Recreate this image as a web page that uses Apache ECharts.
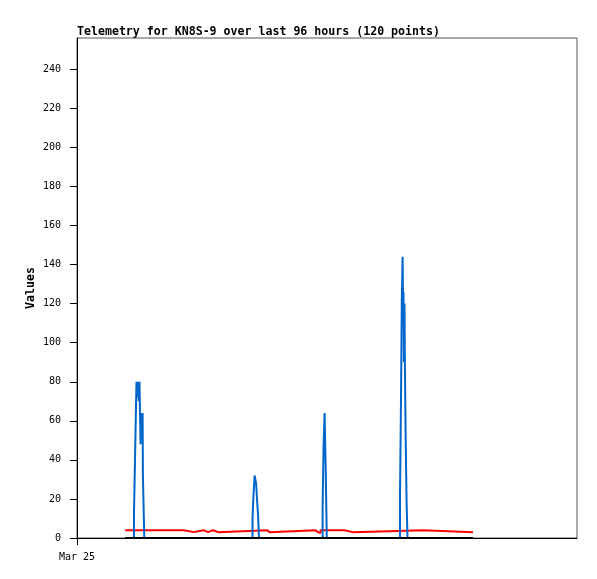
<!DOCTYPE html>
<html><head><meta charset="utf-8">
<script src="https://cdn.jsdelivr.net/npm/echarts@6/dist/echarts.min.js"></script>
<style>html,body{margin:0;padding:0;background:#fff}#c{width:597px;height:579px}</style>
</head><body><div id="c"></div>
<script>
const titleText = 'Telemetry for KN8S-9 over last 96 hours (120 points)';
const yAxisName = 'Values';
const xTickHours = [0];
const xTickLabels = ['Mar 25'];
const yTicks = [0, 20, 40, 60, 80, 100, 120, 140, 160, 180, 200, 220, 240];

// time in hours since Mar 25 00:00; each value starts at its time (step)
const blueHours = [13.3,
  15.73, 16.01, 16.28, 16.42, 16.64, 16.84, 17.06, 17.25, 17.39, 17.55, 17.75, 17.91, 18.11, 18.19, 18.57,
  48.44, 48.71, 49.02, 49.43, 49.68, 49.96, 50.23,
  67.79, 68.06, 68.34, 68.67, 68.94,
  89.15, 89.42, 89.64, 89.87, 90.00, 90.11, 90.22, 90.39, 90.50, 90.69, 90.97, 91.22,
  109.3];
const blueValues = [0,
  13, 40, 67, 80, 72, 80, 70, 80, 64, 48, 64, 52, 64, 32, 0,
  10, 22, 32, 28, 20, 12, 0,
  16, 48, 64, 32, 0,
  22, 70, 121, 144, 121, 126, 90, 120, 90, 54, 18, 0,
  0];

const redHours = [13.3, 29.5, 32.3, 34.9, 36.2, 37.5, 39.0,
  52.4, 53.2, 65.9, 66.5, 67.2, 73.8, 76.1, 95.6, 96.0, 109.3];
const redValues = [4, 3, 4, 3, 4, 3, 4,
  3, 4, 3, 2.5, 4, 3, 4, 3.5, 3, 3];

const blackHours = [13.3, 109.3];
const blackValues = [0, 0];

// build step-shaped data: each new value begins at its own time
function stepData(hours, values) {
  const out = [[hours[0], values[0]]];
  for (let i = 1; i < hours.length; i++) {
    out.push([hours[i], values[i - 1]]);
    out.push([hours[i], values[i]]);
  }
  return out;
}
const font = 'DejaVu Sans Mono';

const chart = echarts.init(document.getElementById('c'), null, {renderer: 'canvas'});
chart.setOption({
  animation: false,
  backgroundColor: '#fff',
  title: {
    text: titleText, left: 72, top: 21,
    textStyle: {fontFamily: font, fontWeight: 'bold', fontSize: 11.6, color: '#000'}
  },
  grid: {left: 77, top: 38, width: 500, height: 500, show: true, borderColor: '#555', borderWidth: 1},
  xAxis: {
    type: 'value', min: 0, max: 138,
    axisLine: {show: true, lineStyle: {color: '#000', width: 1}},
    axisTick: {show: true, length: 7, customValues: xTickHours, lineStyle: {color: '#000'}},
    axisLabel: {
      customValues: xTickHours, margin: 14,
      formatter: v => { const i = xTickHours.indexOf(v); return i >= 0 ? xTickLabels[i] : ''; },
      fontFamily: font, fontSize: 10, color: '#000'
    },
    splitLine: {show: false}
  },
  yAxis: {
    type: 'value', min: 0, max: 256,
    name: yAxisName, nameLocation: 'middle', nameRotate: 90, nameGap: 40, nameMoveOverlap: false,
    nameTextStyle: {fontFamily: font, fontWeight: 'bold', fontSize: 11.6, color: '#000'},
    axisLine: {show: true, lineStyle: {color: '#000', width: 1}},
    axisTick: {show: true, length: 7, customValues: yTicks, lineStyle: {color: '#000'}},
    axisLabel: {customValues: yTicks, margin: 16, fontFamily: font, fontSize: 10, color: '#000'},
    splitLine: {show: false}
  },
  series: [
    {type: 'line', data: stepData(redHours, redValues), showSymbol: false, lineStyle: {color: '#ff0000', width: 2}, z: 2},
    {type: 'line', data: stepData(blueHours, blueValues), showSymbol: false, lineStyle: {color: '#0066cc', width: 2}, z: 3},
    {type: 'line', data: stepData(blackHours, blackValues), showSymbol: false, lineStyle: {color: '#000', width: 2}, z: 4}
  ]
});
</script>
</body></html>
